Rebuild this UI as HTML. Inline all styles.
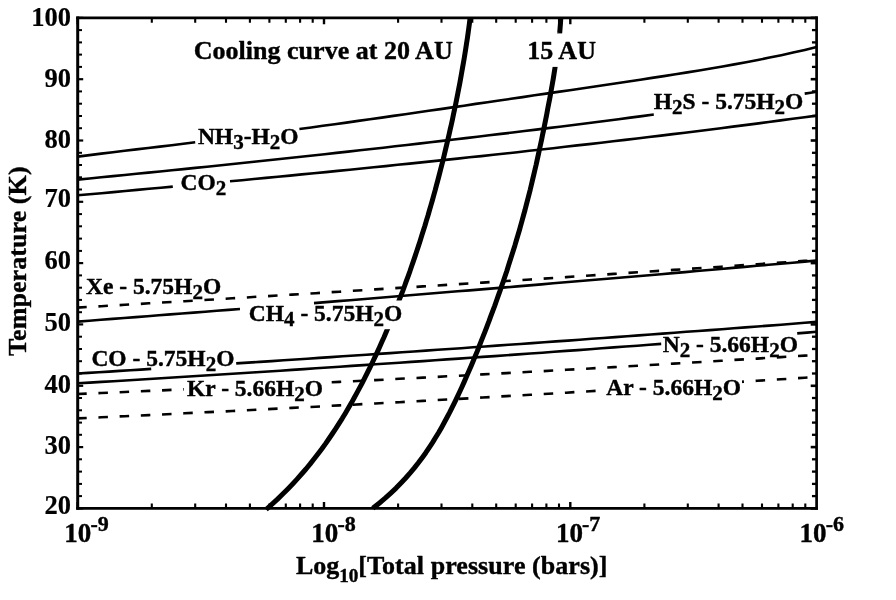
<!DOCTYPE html>
<html><head><meta charset="utf-8"><title>Clathrate stability curves</title>
<style>html,body{margin:0;padding:0;background:#fff;}svg{display:block;opacity:0.999;will-change:transform;}text{font-family:"Liberation Serif",serif;font-weight:bold;fill:#000;stroke:#000;stroke-width:0.4px;stroke-linejoin:round;}</style></head><body>
<svg width="896" height="600" viewBox="0 0 896 600">
<rect x="0" y="0" width="896" height="600" fill="#fff"/>
<g fill="none" stroke="#000" stroke-linecap="butt" stroke-linejoin="round">
<path d="M77.7,156.6 L89.5,155.1 L101.2,153.6 L112.9,152.2 L124.7,150.8 L136.4,149.4 L148.2,148.0 L159.9,146.6 L171.7,145.2 L183.4,143.8 L195.2,142.3" stroke-width="2.6"/>
<path d="M299.4,129.0 L311.2,127.5 L322.9,125.8 L334.7,124.2 L346.4,122.6 L358.2,120.9 L369.9,119.3 L381.7,117.6 L393.4,115.9 L405.2,114.2 L416.9,112.5 L428.7,110.8 L440.5,109.1 L452.2,107.4 L464.0,105.7 L475.7,103.9 L487.5,102.2 L499.2,100.5 L511.0,98.8 L522.7,97.1 L534.5,95.3 L546.2,93.6 L558.0,91.9 L569.8,90.2 L581.5,88.5 L593.3,86.7 L605.0,85.0 L616.8,83.3 L628.5,81.5 L640.3,79.7 L652.0,77.9 L663.8,76.1 L675.5,74.3 L687.3,72.4 L699.1,70.5 L710.8,68.5 L722.6,66.5 L734.3,64.4 L746.1,62.2 L757.8,60.0 L769.6,57.6 L781.3,55.2 L793.1,52.6 L804.8,49.9 L816.6,47.0" stroke-width="2.6"/>
<path d="M77.7,179.6 L89.5,178.5 L101.2,177.3 L113.0,176.1 L124.7,175.0 L136.5,173.8 L148.2,172.6 L160.0,171.5 L171.8,170.3 L183.5,169.1 L195.3,167.9 L207.0,166.7 L218.8,165.5 L230.5,164.2 L242.3,163.0 L254.1,161.8 L265.8,160.5 L277.6,159.3 L289.3,158.0 L301.1,156.8 L312.8,155.5 L324.6,154.2 L336.4,152.9 L348.1,151.6 L359.9,150.3 L371.6,149.0 L383.4,147.7 L395.1,146.3 L406.9,145.0 L418.7,143.6 L430.4,142.3 L442.2,140.9 L453.9,139.5 L465.7,138.1 L477.4,136.7 L489.2,135.3 L501.0,133.9 L512.7,132.5 L524.5,131.0 L536.2,129.6 L548.0,128.1 L559.7,126.7 L571.5,125.2 L583.3,123.7 L595.0,122.2 L606.8,120.7 L618.5,119.2 L630.3,117.6 L642.0,116.1 L653.8,114.5" stroke-width="2.6"/>
<path d="M804.7,93.6 L810.7,92.7 L816.6,91.8" stroke-width="2.6"/>
<path d="M77.7,195.3 L89.6,194.2 L101.5,193.2 L113.4,192.1 L125.2,191.0 L137.1,189.9 L149.0,188.8 L160.9,187.7 L172.8,186.6" stroke-width="2.6"/>
<path d="M230.0,181.3 L242.0,180.2 L253.9,179.0 L265.9,177.9 L277.9,176.7 L289.9,175.6 L301.8,174.4 L313.8,173.2 L325.8,172.1 L337.7,170.9 L349.7,169.7 L361.7,168.5 L373.7,167.3 L385.6,166.1 L397.6,164.8 L409.6,163.6 L421.5,162.4 L433.5,161.1 L445.5,159.9 L457.5,158.6 L469.4,157.3 L481.4,156.1 L493.4,154.8 L505.3,153.5 L517.3,152.2 L529.3,150.8 L541.3,149.5 L553.2,148.2 L565.2,146.8 L577.2,145.4 L589.1,144.1 L601.1,142.7 L613.1,141.3 L625.1,139.9 L637.0,138.5 L649.0,137.0 L661.0,135.6 L672.9,134.1 L684.9,132.7 L696.9,131.2 L708.9,129.7 L720.8,128.2 L732.8,126.6 L744.8,125.1 L756.7,123.6 L768.7,122.0 L780.7,120.4 L792.7,118.8 L804.6,117.2 L816.6,115.6" stroke-width="2.6"/>
<path d="M77.2,307.6 L89.1,306.9 L101.1,306.2 L113.0,305.5 L124.9,304.8 L136.8,304.1 L148.8,303.3 L160.7,302.6 L172.6,301.9 L184.5,301.2 L196.5,300.5 L208.4,299.8 L220.3,299.0 L232.2,298.3 L244.2,297.6 L256.1,296.8 L268.0,296.1 L279.9,295.4 L291.9,294.6 L303.8,293.9 L315.7,293.2 L327.6,292.4 L339.6,291.7 L351.5,290.9 L363.4,290.2 L375.3,289.4 L387.3,288.7 L399.2,287.9 L411.1,287.2 L423.0,286.4 L435.0,285.6 L446.9,284.9 L458.8,284.1 L470.8,283.3 L482.7,282.6 L494.6,281.8 L506.5,281.0 L518.5,280.2 L530.4,279.5 L542.3,278.7 L554.2,277.9 L566.2,277.1 L578.1,276.3 L590.0,275.5 L601.9,274.7 L613.9,273.9 L625.8,273.1 L637.7,272.3 L649.6,271.5 L661.6,270.7 L673.5,269.9 L685.4,269.1 L697.3,268.3 L709.3,267.5 L721.2,266.7 L733.1,265.9 L745.0,265.1 L757.0,264.2 L768.9,263.4 L780.8,262.6 L792.7,261.8 L804.7,260.9 L816.6,260.1" stroke-width="2.6" stroke-dasharray="9.520 11.724"/>
<path d="M77.7,321.6 L89.3,320.7 L100.9,319.8 L112.5,318.9 L124.1,318.0 L135.7,317.1 L147.3,316.2 L158.9,315.3 L170.4,314.4 L182.0,313.5 L193.6,312.6 L205.2,311.7 L216.8,310.8 L228.4,309.9 L240.0,309.0" stroke-width="2.6"/>
<path d="M314.0,303.1 L326.0,302.1 L337.9,301.1 L349.9,300.2 L361.9,299.2 L373.8,298.2 L385.8,297.3 L397.8,296.3 L409.7,295.3 L421.7,294.3 L433.7,293.3 L445.6,292.3 L457.6,291.3 L469.6,290.4 L481.5,289.4 L493.5,288.4 L505.5,287.4 L517.4,286.4 L529.4,285.4 L541.4,284.4 L553.3,283.3 L565.3,282.3 L577.3,281.3 L589.2,280.3 L601.2,279.3 L613.2,278.3 L625.1,277.2 L637.1,276.2 L649.1,275.2 L661.0,274.2 L673.0,273.1 L685.0,272.1 L696.9,271.0 L708.9,270.0 L720.9,269.0 L732.8,267.9 L744.8,266.9 L756.8,265.8 L768.7,264.8 L780.7,263.7 L792.7,262.7 L804.6,261.6 L816.6,260.5" stroke-width="2.6"/>
<path d="M77.7,373.5 L88.2,372.9 L98.7,372.2 L109.2,371.6 L119.7,370.9 L130.2,370.2 L140.7,369.6 L151.2,368.9" stroke-width="2.6"/>
<path d="M236.2,363.4 L248.1,362.6 L259.9,361.9 L271.8,361.1 L283.6,360.3 L295.5,359.5 L307.3,358.7 L319.2,357.9 L331.0,357.1 L342.8,356.3 L354.7,355.5 L366.5,354.7 L378.4,353.9 L390.2,353.1 L402.1,352.3 L413.9,351.5 L425.8,350.6 L437.6,349.8 L449.4,349.0 L461.3,348.2 L473.1,347.3 L485.0,346.5 L496.8,345.6 L508.7,344.8 L520.5,344.0 L532.3,343.1 L544.2,342.3 L556.0,341.4 L567.9,340.6 L579.7,339.7 L591.6,338.8 L603.4,338.0 L615.3,337.1 L627.1,336.2 L638.9,335.4 L650.8,334.5 L662.6,333.6 L674.5,332.7 L686.3,331.8 L698.2,331.0 L710.0,330.1 L721.8,329.2 L733.7,328.3 L745.5,327.4 L757.4,326.5 L769.2,325.6 L781.1,324.7 L792.9,323.7 L804.8,322.8 L816.6,321.9" stroke-width="2.6"/>
<path d="M77.7,383.3 L89.6,382.6 L101.5,381.9 L113.4,381.2 L125.3,380.5 L137.2,379.7 L149.2,379.0 L161.1,378.3 L173.0,377.5 L184.9,376.8 L196.8,376.0 L208.7,375.3 L220.6,374.5 L232.5,373.8 L244.4,373.0 L256.3,372.2 L268.2,371.5 L280.2,370.7 L292.1,369.9 L304.0,369.1 L315.9,368.3 L327.8,367.5 L339.7,366.7 L351.6,365.9 L363.5,365.1 L375.4,364.3 L387.3,363.5 L399.2,362.7 L411.2,361.9 L423.1,361.1 L435.0,360.3 L446.9,359.4 L458.8,358.6 L470.7,357.8 L482.6,356.9 L494.5,356.1 L506.4,355.2 L518.3,354.4 L530.2,353.5 L542.2,352.7 L554.1,351.8 L566.0,350.9 L577.9,350.1 L589.8,349.2 L601.7,348.3 L613.6,347.4 L625.5,346.5 L637.4,345.7 L649.3,344.8 L661.2,343.9" stroke-width="2.6"/>
<path d="M797.2,333.4 L806.9,332.6 L816.6,331.8" stroke-width="2.6"/>
<path d="M77.2,394.0 L89.1,393.5 L101.1,393.0 L113.0,392.5 L124.9,392.0 L136.8,391.4 L148.8,390.9 L160.7,390.4 L172.6,389.8 L184.5,389.3 L196.5,388.8 L208.4,388.2 L220.3,387.6 L232.2,387.1 L244.2,386.5 L256.1,386.0 L268.0,385.4 L279.9,384.8 L291.9,384.2 L303.8,383.6 L315.7,383.1 L327.6,382.5 L339.6,381.9 L351.5,381.3 L363.4,380.7 L375.3,380.1 L387.3,379.5 L399.2,378.8 L411.1,378.2 L423.0,377.6 L435.0,377.0 L446.9,376.3 L458.8,375.7 L470.8,375.1 L482.7,374.4 L494.6,373.8 L506.5,373.1 L518.5,372.5 L530.4,371.8 L542.3,371.2 L554.2,370.5 L566.2,369.8 L578.1,369.2 L590.0,368.5 L601.9,367.8 L613.9,367.1 L625.8,366.4 L637.7,365.7 L649.6,365.0 L661.6,364.3 L673.5,363.6 L685.4,362.9 L697.3,362.2 L709.3,361.5 L721.2,360.8 L733.1,360.0 L745.0,359.3 L757.0,358.6 L768.9,357.8 L780.8,357.1 L792.7,356.4 L804.7,355.6 L816.6,354.9" stroke-width="2.6" stroke-dasharray="9.513 11.717"/>
<path d="M77.2,418.4 L89.1,417.9 L101.1,417.3 L113.0,416.7 L124.9,416.2 L136.8,415.6 L148.8,415.1 L160.7,414.5 L172.6,413.9 L184.5,413.3 L196.5,412.7 L208.4,412.1 L220.3,411.6 L232.2,411.0 L244.2,410.4 L256.1,409.7 L268.0,409.1 L279.9,408.5 L291.9,407.9 L303.8,407.3 L315.7,406.7 L327.6,406.0 L339.6,405.4 L351.5,404.8 L363.4,404.1 L375.3,403.5 L387.3,402.8 L399.2,402.2 L411.1,401.5 L423.0,400.9 L435.0,400.2 L446.9,399.5 L458.8,398.9 L470.8,398.2 L482.7,397.5 L494.6,396.8 L506.5,396.1 L518.5,395.5 L530.4,394.8 L542.3,394.1 L554.2,393.4 L566.2,392.7 L578.1,391.9 L590.0,391.2 L601.9,390.5 L613.9,389.8 L625.8,389.1 L637.7,388.3 L649.6,387.6 L661.6,386.9 L673.5,386.1 L685.4,385.4 L697.3,384.6 L709.3,383.9 L721.2,383.1 L733.1,382.4 L745.0,381.6 L757.0,380.8 L768.9,380.1 L780.8,379.3 L792.7,378.5 L804.7,377.7 L816.6,376.9" stroke-width="2.6" stroke-dasharray="9.515 11.719"/>
</g>
<rect x="183.9" y="378" width="146" height="24" fill="#fff"/>
<rect x="597" y="376" width="145.0" height="24" fill="#fff"/>
<g fill="none" stroke="#000" stroke-linecap="butt" stroke-linejoin="round">
<path d="M266.1,509.5 L271.8,504.4 L277.3,499.4 L282.5,494.3 L287.6,489.2 L292.4,484.2 L297.1,479.1 L301.6,474.0 L306.0,469.0 L310.2,463.9 L314.2,458.8 L318.1,453.7 L321.9,448.7 L325.6,443.6 L329.1,438.5 L332.5,433.5 L335.9,428.4 L339.1,423.3 L342.3,418.3 L345.4,413.2 L348.4,408.1 L351.3,403.1 L354.1,398.0 L356.9,392.9 L359.6,387.9 L362.3,382.8 L364.9,377.7 L367.4,372.6 L369.9,367.6 L372.4,362.5 L374.8,357.4 L377.2,352.4 L379.5,347.3 L381.7,342.2 L384.0,337.2 L386.2,332.1 L388.3,327.0 L390.4,322.0 L392.5,316.9 L394.6,311.8 L396.6,306.8 L398.6,301.7 L400.5,296.6 L402.5,291.6 L404.4,286.5 L406.2,281.4 L408.1,276.3 L409.9,271.3 L411.6,266.2 L413.4,261.1 L415.1,256.1 L416.8,251.0 L418.5,245.9 L420.1,240.9 L421.7,235.8 L423.3,230.7 L424.9,225.7 L426.4,220.6 L428.0,215.5 L429.4,210.5 L430.9,205.4 L432.4,200.3 L433.8,195.2 L435.2,190.2 L436.5,185.1 L437.9,180.0 L439.2,175.0 L440.5,169.9 L441.8,164.8 L443.1,159.8 L444.3,154.7 L445.5,149.6 L446.7,144.6 L447.9,139.5 L449.1,134.4 L450.2,129.4 L451.4,124.3 L452.5,119.2 L453.5,114.2 L454.6,109.1 L455.7,104.0 L456.7,98.9 L457.7,93.9 L458.7,88.8 L459.7,83.7 L460.6,78.7 L461.5,73.6 L462.4,68.5 L463.3,63.5 L464.2,58.4 L465.0,53.3 L465.8,48.3 L466.6,43.2 L467.4,38.1 L468.1,33.1 L468.8,28.0 L469.5,22.9 L470.1,17.9" stroke-width="5.0"/>
<path d="M372.8,508.3 L379.2,503.2 L385.2,498.2 L390.8,493.1 L396.1,488.1 L401.0,483.0 L405.7,478.0 L410.2,472.9 L414.4,467.9 L418.4,462.8 L422.2,457.7 L425.8,452.7 L429.2,447.6 L432.5,442.6 L435.6,437.5 L438.7,432.5 L441.6,427.4 L444.4,422.3 L447.1,417.3 L449.8,412.2 L452.3,407.2 L454.8,402.1 L457.2,397.1 L459.6,392.0 L461.9,387.0 L464.2,381.9 L466.4,376.8 L468.6,371.8 L470.8,366.7 L472.9,361.7 L475.0,356.6 L477.1,351.6 L479.1,346.5 L481.1,341.4 L483.1,336.4 L485.1,331.3 L487.0,326.3 L489.0,321.2 L490.8,316.2 L492.7,311.1 L494.6,306.1 L496.4,301.0 L498.2,295.9 L500.0,290.9 L501.7,285.8 L503.5,280.8 L505.2,275.7 L506.9,270.7 L508.5,265.6 L510.1,260.5 L511.7,255.5 L513.3,250.4 L514.9,245.4 L516.4,240.3 L517.9,235.3 L519.4,230.2 L520.8,225.2 L522.2,220.1 L523.6,215.0 L525.0,210.0 L526.3,204.9 L527.6,199.9 L528.9,194.8 L530.2,189.8 L531.4,184.7 L532.6,179.6 L533.8,174.6 L535.0,169.5 L536.2,164.5 L537.3,159.4 L538.4,154.4 L539.5,149.3 L540.6,144.3 L541.7,139.2 L542.7,134.1 L543.8,129.1 L544.8,124.0 L545.8,119.0 L546.8,113.9 L547.7,108.9 L548.7,103.8 L549.7,98.7 L550.6,93.7 L551.5,88.6 L552.4,83.6 L553.3,78.5 L554.1,73.5 L554.9,68.4 L555.7,63.4 L556.5,58.3 L557.2,53.2 L557.9,48.2 L558.6,43.1 L559.1,38.1 L559.7,33.0 L560.1,28.0 L560.5,22.9 L560.8,17.9" stroke-width="5.0"/>
</g>
<rect x="380" y="300.5" width="26" height="28.7" fill="#fff"/>
<rect x="548" y="33.4" width="20" height="33.5" fill="#fff"/>
<g stroke="#000" fill="none">
<path d="M77.7,16.6V509.7" stroke-width="3.0"/>
<path d="M816.6,16.6V509.7" stroke-width="2.7"/>
<path d="M76.2,17.85H817.95" stroke-width="2.6"/>
<path d="M76.2,508.4H817.95" stroke-width="2.9"/>
<path d="M77.7,508.4h5.5" stroke-width="2.2"/>
<path d="M816.6,508.4h-5.9" stroke-width="2.6"/>
<path d="M77.7,496.1h4.3" stroke-width="2.0"/>
<path d="M816.6,496.1h-4.65" stroke-width="2.3"/>
<path d="M77.7,483.9h4.3" stroke-width="2.0"/>
<path d="M816.6,483.9h-4.65" stroke-width="2.3"/>
<path d="M77.7,471.6h4.3" stroke-width="2.0"/>
<path d="M816.6,471.6h-4.65" stroke-width="2.3"/>
<path d="M77.7,459.3h4.3" stroke-width="2.0"/>
<path d="M816.6,459.3h-4.65" stroke-width="2.3"/>
<path d="M77.7,447.1h5.5" stroke-width="2.2"/>
<path d="M816.6,447.1h-5.9" stroke-width="2.6"/>
<path d="M77.7,434.8h4.3" stroke-width="2.0"/>
<path d="M816.6,434.8h-4.65" stroke-width="2.3"/>
<path d="M77.7,422.6h4.3" stroke-width="2.0"/>
<path d="M816.6,422.6h-4.65" stroke-width="2.3"/>
<path d="M77.7,410.3h4.3" stroke-width="2.0"/>
<path d="M816.6,410.3h-4.65" stroke-width="2.3"/>
<path d="M77.7,398.0h4.3" stroke-width="2.0"/>
<path d="M816.6,398.0h-4.65" stroke-width="2.3"/>
<path d="M77.7,385.8h5.5" stroke-width="2.2"/>
<path d="M816.6,385.8h-5.9" stroke-width="2.6"/>
<path d="M77.7,373.5h4.3" stroke-width="2.0"/>
<path d="M816.6,373.5h-4.65" stroke-width="2.3"/>
<path d="M77.7,361.2h4.3" stroke-width="2.0"/>
<path d="M816.6,361.2h-4.65" stroke-width="2.3"/>
<path d="M77.7,349.0h4.3" stroke-width="2.0"/>
<path d="M816.6,349.0h-4.65" stroke-width="2.3"/>
<path d="M77.7,336.7h4.3" stroke-width="2.0"/>
<path d="M816.6,336.7h-4.65" stroke-width="2.3"/>
<path d="M77.7,324.4h5.5" stroke-width="2.2"/>
<path d="M816.6,324.4h-5.9" stroke-width="2.6"/>
<path d="M77.7,312.2h4.3" stroke-width="2.0"/>
<path d="M816.6,312.2h-4.65" stroke-width="2.3"/>
<path d="M77.7,299.9h4.3" stroke-width="2.0"/>
<path d="M816.6,299.9h-4.65" stroke-width="2.3"/>
<path d="M77.7,287.7h4.3" stroke-width="2.0"/>
<path d="M816.6,287.7h-4.65" stroke-width="2.3"/>
<path d="M77.7,275.4h4.3" stroke-width="2.0"/>
<path d="M816.6,275.4h-4.65" stroke-width="2.3"/>
<path d="M77.7,263.1h5.5" stroke-width="2.2"/>
<path d="M816.6,263.1h-5.9" stroke-width="2.6"/>
<path d="M77.7,250.9h4.3" stroke-width="2.0"/>
<path d="M816.6,250.9h-4.65" stroke-width="2.3"/>
<path d="M77.7,238.6h4.3" stroke-width="2.0"/>
<path d="M816.6,238.6h-4.65" stroke-width="2.3"/>
<path d="M77.7,226.3h4.3" stroke-width="2.0"/>
<path d="M816.6,226.3h-4.65" stroke-width="2.3"/>
<path d="M77.7,214.1h4.3" stroke-width="2.0"/>
<path d="M816.6,214.1h-4.65" stroke-width="2.3"/>
<path d="M77.7,201.8h5.5" stroke-width="2.2"/>
<path d="M816.6,201.8h-5.9" stroke-width="2.6"/>
<path d="M77.7,189.5h4.3" stroke-width="2.0"/>
<path d="M816.6,189.5h-4.65" stroke-width="2.3"/>
<path d="M77.7,177.3h4.3" stroke-width="2.0"/>
<path d="M816.6,177.3h-4.65" stroke-width="2.3"/>
<path d="M77.7,165.0h4.3" stroke-width="2.0"/>
<path d="M816.6,165.0h-4.65" stroke-width="2.3"/>
<path d="M77.7,152.8h4.3" stroke-width="2.0"/>
<path d="M816.6,152.8h-4.65" stroke-width="2.3"/>
<path d="M77.7,140.5h5.5" stroke-width="2.2"/>
<path d="M816.6,140.5h-5.9" stroke-width="2.6"/>
<path d="M77.7,128.2h4.3" stroke-width="2.0"/>
<path d="M816.6,128.2h-4.65" stroke-width="2.3"/>
<path d="M77.7,116.0h4.3" stroke-width="2.0"/>
<path d="M816.6,116.0h-4.65" stroke-width="2.3"/>
<path d="M77.7,103.7h4.3" stroke-width="2.0"/>
<path d="M816.6,103.7h-4.65" stroke-width="2.3"/>
<path d="M77.7,91.4h4.3" stroke-width="2.0"/>
<path d="M816.6,91.4h-4.65" stroke-width="2.3"/>
<path d="M77.7,79.2h5.5" stroke-width="2.2"/>
<path d="M816.6,79.2h-5.9" stroke-width="2.6"/>
<path d="M77.7,66.9h4.3" stroke-width="2.0"/>
<path d="M816.6,66.9h-4.65" stroke-width="2.3"/>
<path d="M77.7,54.6h4.3" stroke-width="2.0"/>
<path d="M816.6,54.6h-4.65" stroke-width="2.3"/>
<path d="M77.7,42.4h4.3" stroke-width="2.0"/>
<path d="M816.6,42.4h-4.65" stroke-width="2.3"/>
<path d="M77.7,30.1h4.3" stroke-width="2.0"/>
<path d="M816.6,30.1h-4.65" stroke-width="2.3"/>
<path d="M77.7,17.9h5.5" stroke-width="2.2"/>
<path d="M816.6,17.9h-5.9" stroke-width="2.6"/>
<path d="M77.7,508.4v-6.5M77.7,17.85v6.5" stroke-width="2.4"/>
<path d="M151.8,508.4v-4.9M151.8,17.85v4.9" stroke-width="2.1"/>
<path d="M195.2,508.4v-4.9M195.2,17.85v4.9" stroke-width="2.1"/>
<path d="M226.0,508.4v-4.9M226.0,17.85v4.9" stroke-width="2.1"/>
<path d="M249.9,508.4v-4.9M249.9,17.85v4.9" stroke-width="2.1"/>
<path d="M269.4,508.4v-4.9M269.4,17.85v4.9" stroke-width="2.1"/>
<path d="M285.8,508.4v-4.9M285.8,17.85v4.9" stroke-width="2.1"/>
<path d="M300.1,508.4v-4.9M300.1,17.85v4.9" stroke-width="2.1"/>
<path d="M312.7,508.4v-4.9M312.7,17.85v4.9" stroke-width="2.1"/>
<path d="M324.0,508.4v-6.5M324.0,17.85v6.5" stroke-width="2.4"/>
<path d="M398.1,508.4v-4.9M398.1,17.85v4.9" stroke-width="2.1"/>
<path d="M441.5,508.4v-4.9M441.5,17.85v4.9" stroke-width="2.1"/>
<path d="M472.3,508.4v-4.9M472.3,17.85v4.9" stroke-width="2.1"/>
<path d="M496.2,508.4v-4.9M496.2,17.85v4.9" stroke-width="2.1"/>
<path d="M515.7,508.4v-4.9M515.7,17.85v4.9" stroke-width="2.1"/>
<path d="M532.1,508.4v-4.9M532.1,17.85v4.9" stroke-width="2.1"/>
<path d="M546.4,508.4v-4.9M546.4,17.85v4.9" stroke-width="2.1"/>
<path d="M559.0,508.4v-4.9M559.0,17.85v4.9" stroke-width="2.1"/>
<path d="M570.3,508.4v-6.5M570.3,17.85v6.5" stroke-width="2.4"/>
<path d="M644.4,508.4v-4.9M644.4,17.85v4.9" stroke-width="2.1"/>
<path d="M687.8,508.4v-4.9M687.8,17.85v4.9" stroke-width="2.1"/>
<path d="M718.6,508.4v-4.9M718.6,17.85v4.9" stroke-width="2.1"/>
<path d="M742.5,508.4v-4.9M742.5,17.85v4.9" stroke-width="2.1"/>
<path d="M762.0,508.4v-4.9M762.0,17.85v4.9" stroke-width="2.1"/>
<path d="M778.4,508.4v-4.9M778.4,17.85v4.9" stroke-width="2.1"/>
<path d="M792.7,508.4v-4.9M792.7,17.85v4.9" stroke-width="2.1"/>
<path d="M805.3,508.4v-4.9M805.3,17.85v4.9" stroke-width="2.1"/>
</g>
<text x="71.1" y="26.1" font-size="26.5" text-anchor="end" style="stroke-width:0.2px">100</text>
<text x="71.1" y="86.5" font-size="26.5" text-anchor="end" style="stroke-width:0.2px">90</text>
<text x="71.1" y="148.2" font-size="26.5" text-anchor="end" style="stroke-width:0.2px">80</text>
<text x="71.1" y="207.2" font-size="26.5" text-anchor="end" style="stroke-width:0.2px">70</text>
<text x="71.1" y="269.3" font-size="26.5" text-anchor="end" style="stroke-width:0.2px">60</text>
<text x="71.1" y="330.5" font-size="26.5" text-anchor="end" style="stroke-width:0.2px">50</text>
<text x="71.1" y="392.6" font-size="26.5" text-anchor="end" style="stroke-width:0.2px">40</text>
<text x="71.1" y="454.4" font-size="26.5" text-anchor="end" style="stroke-width:0.2px">30</text>
<text x="71.1" y="513.8" font-size="26.5" text-anchor="end" style="stroke-width:0.2px">20</text>
<text x="64.3" y="541.5" font-size="27">10<tspan font-size="22" dy="-10.3" dx="-0.9">-9</tspan></text>
<text x="311.3" y="541.5" font-size="27">10<tspan font-size="22" dy="-10.3" dx="-0.9">-8</tspan></text>
<text x="555.9" y="541.5" font-size="27">10<tspan font-size="22" dy="-10.3" dx="-0.9">-7</tspan></text>
<text x="799.6" y="541.5" font-size="27">10<tspan font-size="22" dy="-10.3" dx="-0.9">-6</tspan></text>
<text transform="translate(25.7,261.2) rotate(-90)" font-size="26" text-anchor="middle" textLength="189.5" lengthAdjust="spacing">Temperature (K)</text>
<text x="295.9" y="573.7" font-size="26">Log<tspan font-size="19.2" dy="8.7">10</tspan></text>
<text x="358.3" y="573.7" font-size="26" textLength="249.2" lengthAdjust="spacing">[Total pressure (bars)]</text>
<text transform="translate(0,59.0) scale(1,1)" x="193.7" y="0" font-size="26" textLength="259" lengthAdjust="spacing">Cooling curve at 20 AU</text>
<text transform="translate(0,59.0) scale(1,1)" x="527.3" y="0" font-size="26">15 AU</text>
<text transform="translate(0,144.3) scale(1,1)" x="197.9" y="0" font-size="23.5"><tspan font-size="23.5">NH</tspan><tspan font-size="21" dy="5.0">3</tspan><tspan font-size="23.5" dy="-5.0">-H</tspan><tspan font-size="21" dy="5.0">2</tspan><tspan font-size="23.5" dy="-5.0">O</tspan></text>
<text transform="translate(0,189.7) scale(1,1)" x="180.6" y="0" font-size="23.5"><tspan font-size="23.5">CO</tspan><tspan font-size="21" dy="5.0">2</tspan></text>
<text transform="translate(0,109.3) scale(1,1)" x="653.75" y="0" font-size="23.5"><tspan font-size="23.5">H</tspan><tspan font-size="21" dy="5.0">2</tspan><tspan font-size="23.5" dy="-5.0">S - 5.75H</tspan><tspan font-size="21" dy="5.0">2</tspan><tspan font-size="23.5" dy="-5.0">O</tspan></text>
<text transform="translate(0,293.7) scale(1,1)" x="86" y="0" font-size="23.5"><tspan font-size="23.5">Xe - 5.75H</tspan><tspan font-size="21" dy="5.0">2</tspan><tspan font-size="23.5" dy="-5.0">O</tspan></text>
<text transform="translate(0,321.0) scale(1,1)" x="248.75" y="0" font-size="23.5"><tspan font-size="23.5">CH</tspan><tspan font-size="21" dy="5.0">4</tspan><tspan font-size="23.5" dy="-5.0"> - 5.75H</tspan><tspan font-size="21" dy="5.0">2</tspan><tspan font-size="23.5" dy="-5.0">O</tspan></text>
<text transform="translate(0,365.5) scale(1,1)" x="91.4" y="0" font-size="23.5"><tspan font-size="23.5">CO - 5.75H</tspan><tspan font-size="21" dy="5.0">2</tspan><tspan font-size="23.5" dy="-5.0">O</tspan></text>
<text transform="translate(0,396.25) scale(1,1)" x="187" y="0" font-size="23.5"><tspan font-size="23.5">Kr - 5.66H</tspan><tspan font-size="21" dy="5.0">2</tspan><tspan font-size="23.5" dy="-5.0">O</tspan></text>
<text transform="translate(0,351.7) scale(1,1)" x="662.7" y="0" font-size="23.5"><tspan font-size="23.5">N</tspan><tspan font-size="21" dy="5.0">2</tspan><tspan font-size="23.5" dy="-5.0"> - 5.66H</tspan><tspan font-size="21" dy="5.0">2</tspan><tspan font-size="23.5" dy="-5.0">O</tspan></text>
<text transform="translate(0,394.7) scale(1,1)" x="606.25" y="0" font-size="23.5"><tspan font-size="23.5">Ar - 5.66H</tspan><tspan font-size="21" dy="5.0">2</tspan><tspan font-size="23.5" dy="-5.0">O</tspan></text>
</svg></body></html>
